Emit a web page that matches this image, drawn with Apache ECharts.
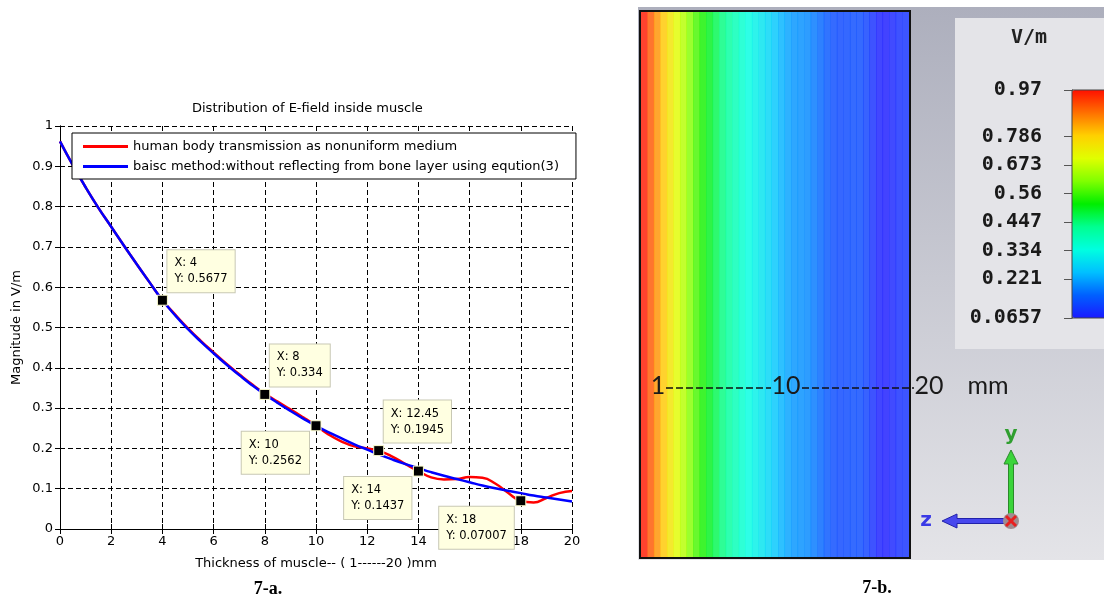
<!DOCTYPE html>
<html>
<head>
<meta charset="utf-8">
<script src="https://cdn.jsdelivr.net/npm/echarts@6/dist/echarts.min.js"></script>
<style>
    html, body { margin: 0; padding: 0; background: #fff; }
    #main { width: 1104px; height: 602px; }
</style>
</head>
<body>
<div id="main"></div>
<script>
// thickness of muscle (mm)
var thickness = [0, 0.5, 1, 1.5, 2, 2.5, 3, 3.5, 4, 4.5, 5, 5.5, 6, 6.5, 7, 7.5, 8, 8.5, 9, 9.5, 10,
    10.5, 11, 11.5, 12, 12.5, 13, 13.5, 14, 14.5, 15, 15.5, 16, 16.5, 17, 17.5, 18, 18.5, 19, 19.5, 20];
// nonuniform medium (red)
var redLine = [0.962, 0.903, 0.848, 0.797, 0.750, 0.703, 0.657, 0.612, 0.5677,
    0.532, 0.498, 0.467, 0.438, 0.410, 0.384, 0.359, 0.336, 0.316, 0.297, 0.277, 0.2562,
    0.234, 0.217, 0.205, 0.200, 0.193, 0.179, 0.161, 0.1437, 0.128, 0.123, 0.124, 0.129,
    0.127, 0.113, 0.090, 0.070, 0.066, 0.077, 0.089, 0.094];
// basic method (blue)
var blueLine = [0.962, 0.903, 0.848, 0.797, 0.750, 0.703, 0.657, 0.612, 0.568,
    0.530, 0.496, 0.465, 0.436, 0.408, 0.382, 0.357, 0.334, 0.313, 0.293, 0.274, 0.256,
    0.240, 0.225, 0.210, 0.197, 0.184, 0.172, 0.161, 0.151, 0.141, 0.132, 0.124, 0.116,
    0.108, 0.101, 0.095, 0.089, 0.083, 0.078, 0.073, 0.068];
// data tips
var tipX = [4, 8, 10, 12.45, 14, 18];
var tipY = [0.5677, 0.334, 0.2562, 0.1945, 0.1437, 0.07007];
// colour scale (V/m)
var barTicks = [0.97, 0.786, 0.673, 0.56, 0.447, 0.334, 0.221, 0.0657];
var barMin = 0.0657;
var barMax = 0.97;
var scaleMarks = ['1', '10', '20'];

var seriesNames = ['human body transmission as nonuniform medium',
    'baisc method:without reflecting from bone layer using eqution(3)'];

var font = 'DejaVu Sans';
var tipSide = ['ur', 'ur', 'll', 'ur', 'll', 'll'];

function tipLabel(side) {
    if (side === 'ur') {
        return { align: 'left', verticalAlign: 'bottom', offset: [5, -8] };
    }
    return { align: 'right', verticalAlign: 'top', offset: [-7, 6] };
}

var redData = thickness.map(function (t, i) { return [t, redLine[i]]; });
var blueData = thickness.map(function (t, i) { return [t, blueLine[i]]; });
var tipData = tipX.map(function (x, i) {
    return { value: [x, tipY[i]], label: tipLabel(tipSide[i]) };
});
var cells = redLine.map(function (v, i) { return [i, 0, v]; });

var axisText = { fontFamily: font, fontSize: 13, color: '#000' };
var scaleFont = '25px Lato';

var chart = echarts.init(document.getElementById('main'));
chart.setOption({
    animation: false,
    title: {
        text: 'Distribution of E-field inside muscle',
        left: 192,
        top: 102,
        padding: 0,
        textStyle: { fontFamily: font, fontSize: 13, fontWeight: 'normal', color: '#000' }
    },
    legend: {
        data: seriesNames.map(function (n) { return { name: n, icon: 'rect' }; }),
        orient: 'vertical',
        left: 72,
        top: 133,
        padding: [7, 17, 6, 11],
        itemGap: 7,
        itemWidth: 45,
        itemHeight: 3,
        backgroundColor: '#fff',
        borderColor: '#000',
        borderWidth: 1,
        selectedMode: false,
        textStyle: axisText
    },
    grid: [
        { left: 60, top: 126, width: 512, height: 403 },
        { left: 641, top: 12, width: 268, height: 545, show: true, backgroundColor: '#fff', borderWidth: 0 },
        { left: 1072, top: 90, width: 40, height: 228 }
    ],
    xAxis: [
        {
            gridIndex: 0, type: 'value', min: 0, max: 20, interval: 2,
            name: 'Thickness of muscle-- ( 1------20 )mm',
            nameLocation: 'middle', nameGap: 28, nameTextStyle: axisText,
            axisLine: { lineStyle: { color: '#000' } },
            axisTick: { inside: true, length: 5, lineStyle: { color: '#000' } },
            axisLabel: { margin: 6, fontFamily: font, fontSize: 13, color: '#000' },
            splitLine: { show: true, lineStyle: { color: '#000', type: [5, 3], width: 1 } }
        },
        {
            gridIndex: 0, type: 'value', position: 'top', min: 0, max: 20, interval: 2,
            axisLine: { lineStyle: { color: '#000' } },
            axisTick: { inside: true, length: 5, lineStyle: { color: '#000' } },
            axisLabel: { show: false },
            splitLine: { show: false }
        },
        { gridIndex: 1, type: 'category', data: thickness.map(String), show: false },
        { gridIndex: 2, type: 'value', show: false }
    ],
    yAxis: [
        {
            gridIndex: 0, type: 'value', min: 0, max: 1, interval: 0.1,
            name: 'Magnitude in V/m',
            nameLocation: 'middle', nameGap: 37, nameTextStyle: axisText,
            axisLine: { show: true, lineStyle: { color: '#000' } },
            axisTick: { show: true, inside: true, length: 5, lineStyle: { color: '#000' } },
            axisLabel: { margin: 7, fontFamily: font, fontSize: 13, color: '#000' },
            splitLine: { show: true, lineStyle: { color: '#000', type: [5, 3], width: 1 } }
        },
        {
            gridIndex: 0, type: 'value', position: 'right', min: 0, max: 1, interval: 0.1,
            axisLine: { show: true, lineStyle: { color: '#000' } },
            axisTick: { show: true, inside: true, length: 5, lineStyle: { color: '#000' } },
            axisLabel: { show: false },
            splitLine: { show: false }
        },
        { gridIndex: 1, type: 'category', data: [''], show: false },
        {
            gridIndex: 2, type: 'value', min: barMin, max: barMax, position: 'left',
            axisLine: { show: true, lineStyle: { color: '#555' } },
            axisTick: { show: true, customValues: barTicks, length: 8, lineStyle: { color: '#555' } },
            axisLabel: {
                customValues: barTicks, margin: 30,
                fontFamily: 'DejaVu Sans Mono', fontWeight: 'bold', fontSize: 20, color: '#1a1a1a'
            },
            splitLine: { show: false }
        }
    ],
    visualMap: {
        type: 'continuous',
        seriesIndex: 2,
        min: barMin,
        max: barMax,
        left: 1072,
        top: 90,
        padding: 0,
        itemWidth: 40,
        itemHeight: 228,
        calculable: false,
        hoverLink: false,
        inRange: {
            color: ['#1a1aff', '#0060ff', '#00c0ff', '#00ffe0', '#00ff90', '#00ee00',
                '#80ff00', '#e0ff00', '#ffd000', '#ff7000', '#ff1000']
        }
    },
    series: [
        {
            name: seriesNames[0], type: 'line', xAxisIndex: 0, yAxisIndex: 0,
            data: redData, symbol: 'none', smooth: true,
            lineStyle: { color: '#ff0000', width: 2.5 }, itemStyle: { color: '#ff0000' }
        },
        {
            name: seriesNames[1], type: 'line', xAxisIndex: 0, yAxisIndex: 0,
            data: blueData, symbol: 'none', smooth: true,
            lineStyle: { color: '#0000ff', width: 2.5 }, itemStyle: { color: '#0000ff' }
        },
        {
            type: 'heatmap', xAxisIndex: 2, yAxisIndex: 2, data: cells,
            itemStyle: { opacity: 0.82 }
        },
        {
            type: 'scatter', xAxisIndex: 0, yAxisIndex: 0, data: tipData, zlevel: 1,
            symbol: 'rect', symbolSize: 10,
            itemStyle: { color: '#000', borderColor: '#ffffd0', borderWidth: 1, opacity: 1 },
            label: {
                show: true,
                position: 'inside',
                formatter: function (p) {
                    return '{t|X: ' + p.value[0] + '}\n{t|Y: ' + p.value[1] + '}';
                },
                backgroundColor: '#ffffe1',
                borderColor: '#c8c8b4',
                borderWidth: 1,
                padding: [5, 7],
                rich: {
                    t: { align: 'left', fontFamily: font, fontSize: 11.5, lineHeight: 16, color: '#000' }
                }
            }
        }
    ],
    graphic: [
        {
            type: 'rect', z: -2,
            shape: { x: 638, y: 7, width: 466, height: 553 },
            style: {
                fill: new echarts.graphic.LinearGradient(0, 0, 0, 1, [
                    { offset: 0, color: '#adafbd' },
                    { offset: 1, color: '#e4e4e8' }
                ])
            }
        },
        { type: 'rect', z: -1, shape: { x: 955, y: 18, width: 149, height: 331 }, style: { fill: '#e4e4e8' } },
        { type: 'rect', z: 10, shape: { x: 640, y: 11, width: 270, height: 547 }, style: { fill: 'none', stroke: '#111', lineWidth: 2 } },
        { type: 'rect', z: 10, shape: { x: 1072, y: 90, width: 40, height: 228 }, style: { fill: 'none', stroke: '#444', lineWidth: 1 } },
        {
            type: 'text', z: 10, x: 1029, y: 38,
            style: { text: 'V/m', font: 'bold 20px "DejaVu Sans Mono"', fill: '#222', align: 'center', verticalAlign: 'middle' }
        },
        // 1----10----20 mm
        { type: 'text', z: 10, x: 658, y: 386, style: { text: scaleMarks[0], font: scaleFont, fill: '#1a1a1a', align: 'center', verticalAlign: 'middle' } },
        { type: 'text', z: 10, x: 786, y: 386, style: { text: scaleMarks[1], font: scaleFont, fill: '#1a1a1a', align: 'center', verticalAlign: 'middle' } },
        { type: 'text', z: 10, x: 929, y: 386, style: { text: scaleMarks[2], font: scaleFont, fill: '#1a1a1a', align: 'center', verticalAlign: 'middle' } },
        { type: 'text', z: 10, x: 988, y: 386, style: { text: 'mm', font: scaleFont, fill: '#1a1a1a', align: 'center', verticalAlign: 'middle' } },
        { type: 'line', z: 10, shape: { x1: 666, y1: 388, x2: 771, y2: 388 }, style: { stroke: '#111', lineWidth: 1.5, lineDash: [7, 3] } },
        { type: 'line', z: 10, shape: { x1: 802, y1: 388, x2: 914, y2: 388 }, style: { stroke: '#111', lineWidth: 1.5, lineDash: [7, 3] } },
        // axis triad
        {
            type: 'polygon', z: 10,
            shape: { points: [[1008.5, 521], [1008.5, 464], [1004, 464], [1011, 450], [1018, 464], [1013.5, 464], [1013.5, 521]] },
            style: { fill: '#3ad43a', stroke: '#2a8a2a', lineWidth: 1 }
        },
        {
            type: 'polygon', z: 10,
            shape: { points: [[1011, 518.5], [957, 518.5], [957, 514], [942, 521], [957, 528], [957, 523.5], [1011, 523.5]] },
            style: { fill: '#4848ee', stroke: '#2222aa', lineWidth: 1 }
        },
        { type: 'circle', z: 11, shape: { cx: 1011, cy: 521, r: 8 }, style: { fill: '#a08c90' } },
        { type: 'line', z: 12, shape: { x1: 1006, y1: 516, x2: 1016, y2: 526 }, style: { stroke: '#e82020', lineWidth: 3 } },
        { type: 'line', z: 12, shape: { x1: 1016, y1: 516, x2: 1006, y2: 526 }, style: { stroke: '#e82020', lineWidth: 3 } },
        { type: 'text', z: 10, x: 1011, y: 435, style: { text: 'y', font: 'bold 20px "DejaVu Sans"', fill: '#2f9e2f', align: 'center', verticalAlign: 'middle' } },
        { type: 'text', z: 10, x: 926, y: 521, style: { text: 'z', font: 'bold 20px "DejaVu Sans"', fill: '#3a3ae6', align: 'center', verticalAlign: 'middle' } },
        // captions
        { type: 'text', x: 268, y: 589, style: { text: '7-a.', font: 'bold 18px "Liberation Serif"', fill: '#000', align: 'center', verticalAlign: 'middle' } },
        { type: 'text', x: 877, y: 588, style: { text: '7-b.', font: 'bold 18px "Liberation Serif"', fill: '#000', align: 'center', verticalAlign: 'middle' } }
    ]
});
</script>
</body>
</html>
